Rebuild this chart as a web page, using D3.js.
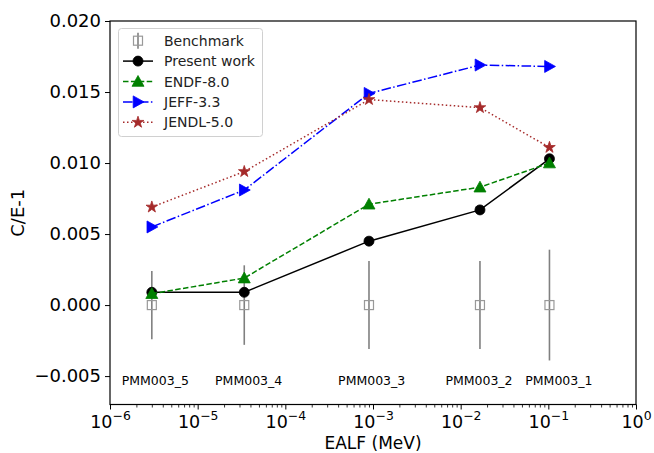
<!DOCTYPE html>
<html>
<head>
<meta charset="utf-8">
<script src="https://cdn.jsdelivr.net/npm/d3@7"></script>
<style>
  html, body { margin: 0; padding: 0; background: #fff; }
  svg { display: block; font-family: "DejaVu Sans", sans-serif; }
</style>
</head>
<body>
<svg id="chart" width="654" height="453"></svg>
<script>
// ---- data ----
const cases = ["PMM003_5", "PMM003_4", "PMM003_3", "PMM003_2", "PMM003_1"];
const ealf = [3.0e-6, 3.4e-5, 9.0e-4, 1.66e-2, 1.03e-1];
const benchmark = [0, 0, 0, 0, 0];
const benchmarkErr = [0.0024, 0.0028, 0.0031, 0.0031, 0.0039];
const presentWork = [0.0009, 0.0009, 0.0045, 0.0067, 0.0103];
const endf80 = [0.0008, 0.0019, 0.0071, 0.0083, 0.0100];
const jeff33 = [0.0055, 0.0081, 0.0149, 0.0169, 0.0168];
const jendl50 = [0.0069, 0.0094, 0.01447, 0.0139, 0.0111];
const labelX = [1.36e-6, 1.58e-5, 4.0e-4, 6.7e-3, 5.46e-2];
const labelY = -0.00565;
const yTicks = [-0.005, 0.000, 0.005, 0.010, 0.015, 0.020];
const xTickExps = [-6, -5, -4, -3, -2, -1, 0];

// ---- layout ----
const svg = d3.select("#chart");
const L = 110, R = 636, T = 21, B = 404.5;
const x = d3.scaleLog().domain([1e-6, 1]).range([L, R]);
const y = d3.scaleLinear().domain([-0.007, 0.020]).range([B, T]);

const series = [
  { name: "Present work", vals: presentWork, color: "#000000", dash: null, marker: "circle" },
  { name: "ENDF-8.0", vals: endf80, color: "#008000", dash: "5.5,2.4", marker: "triUp" },
  { name: "JEFF-3.3", vals: jeff33, color: "#0000ff", dash: "9.6,2.4,1.5,2.4", marker: "triRight" },
  { name: "JENDL-5.0", vals: jendl50, color: "#a52a2a", dash: "1.5,2.5", marker: "star" }
];

function markerPath(type) {
  if (type === "circle") return d3.symbol().type(d3.symbolCircle).size(Math.PI * 5 * 5)();
  if (type === "triUp") { const s = 6; return `M0,${-s}L${s},${s * 0.8}L${-s},${s * 0.8}Z`; }
  if (type === "triRight") { const s = 6; return `M${s},0L${-s * 0.8},${s}L${-s * 0.8},${-s}Z`; }
  if (type === "star") return d3.symbol().type(d3.symbolStar).size(42)();
  return "";
}

// ---- benchmark ----
const gBench = svg.append("g");
cases.forEach((c, i) => {
  gBench.append("line")
    .attr("x1", x(ealf[i])).attr("x2", x(ealf[i]))
    .attr("y1", y(benchmark[i] - benchmarkErr[i])).attr("y2", y(benchmark[i] + benchmarkErr[i]))
    .attr("stroke", "#808080").attr("stroke-width", 1.6);
  gBench.append("rect")
    .attr("x", x(ealf[i]) - 4.5).attr("y", y(benchmark[i]) - 4.5)
    .attr("width", 9).attr("height", 9)
    .attr("fill", "none").attr("stroke", "#999").attr("stroke-width", 1.2);
});

// ---- series ----
const line = d3.line().x((d, i) => x(ealf[i])).y(d => y(d));
series.forEach(s => {
  svg.append("path").datum(s.vals)
    .attr("d", line)
    .attr("fill", "none").attr("stroke", s.color).attr("stroke-width", 1.5)
    .attr("stroke-dasharray", s.dash);
  svg.append("g").selectAll("path").data(s.vals).join("path")
    .attr("d", markerPath(s.marker))
    .attr("transform", (d, i) => `translate(${x(ealf[i])},${y(d)})`)
    .attr("fill", s.color).attr("stroke", s.color).attr("stroke-width", 0.8);
});

// ---- case labels ----
svg.append("g").selectAll("text").data(cases).join("text")
  .attr("x", (d, i) => x(labelX[i])).attr("y", y(labelY))
  .attr("font-size", 12.5).attr("fill", "#000")
  .text(d => d);

// ---- frame ----
svg.append("rect").attr("x", L).attr("y", T).attr("width", R - L).attr("height", B - T)
  .attr("fill", "none").attr("stroke", "#000").attr("stroke-width", 1.2);

// ---- y axis ----
const yAxis = d3.axisLeft(y).tickValues(yTicks).tickSize(5).tickPadding(4)
  .tickFormat(d => d3.format(".3f")(d).replace("-", "\u2212"));
const gy = svg.append("g").attr("transform", `translate(${L},0)`).call(yAxis);
gy.select(".domain").remove();
gy.selectAll("text").attr("font-size", 18).attr("font-family", "DejaVu Sans").attr("fill", "#000");
gy.selectAll("line").attr("stroke-width", 1);

// ---- x axis ----
const majors = xTickExps.map(e => Math.pow(10, e));
const minors = [];
xTickExps.slice(0, -1).forEach(e => { for (let k = 2; k <= 9; k++) minors.push(k * Math.pow(10, e)); });
const xMinor = d3.axisBottom(x).tickValues(minors).tickSize(3).tickFormat("");
const gxm = svg.append("g").attr("transform", `translate(0,${B})`).call(xMinor);
gxm.select(".domain").remove();
gxm.selectAll("line").attr("stroke-width", 0.8);
const xAxis = d3.axisBottom(x).tickValues(majors).tickSize(5).tickFormat("");
const gx = svg.append("g").attr("transform", `translate(0,${B})`).call(xAxis);
gx.select(".domain").remove();
gx.selectAll("line").attr("stroke-width", 1);
gx.selectAll(".tick").each(function(d, i) {
  const t = d3.select(this).append("text")
    .attr("y", 23.5).attr("fill", "#000").attr("text-anchor", "middle")
    .attr("font-size", 17.5).attr("font-family", "DejaVu Sans");
  t.append("tspan").text("10");
  t.append("tspan").attr("dy", -8).attr("font-size", 12.4)
    .text(xTickExps[i] === 0 ? "0" : "\u2212" + Math.abs(xTickExps[i]));
});

// ---- axis labels ----
svg.append("text").attr("x", (L + R) / 2).attr("y", 449).attr("text-anchor", "middle")
  .attr("font-size", 17).attr("fill", "#000").text("EALF (MeV)");
svg.append("text").attr("transform", `translate(24,${(T + B) / 2}) rotate(-90)`)
  .attr("text-anchor", "middle").attr("font-size", 18).attr("fill", "#000").text("C/E-1");

// ---- legend ----
const lg = svg.append("g");
lg.append("rect").attr("x", 118.5).attr("y", 28.5).attr("width", 144).attr("height", 108)
  .attr("rx", 3).attr("fill", "#fff").attr("fill-opacity", 0.8)
  .attr("stroke", "#d0d0d0").attr("stroke-width", 1);
const legendItems = [{ name: "Benchmark", bench: true }].concat(series);
legendItems.forEach((s, i) => {
  const cy = 40.7 + i * 20.4;
  const cx = 138;
  if (s.bench) {
    lg.append("line").attr("x1", cx).attr("x2", cx).attr("y1", cy - 8).attr("y2", cy + 8)
      .attr("stroke", "#808080").attr("stroke-width", 1.6);
    lg.append("rect").attr("x", cx - 4.5).attr("y", cy - 4.5).attr("width", 9).attr("height", 9)
      .attr("fill", "none").attr("stroke", "#999").attr("stroke-width", 1.2);
  } else {
    lg.append("line").attr("x1", 123).attr("x2", 153).attr("y1", cy).attr("y2", cy)
      .attr("stroke", s.color).attr("stroke-width", 1.5).attr("stroke-dasharray", s.dash);
    lg.append("path").attr("d", markerPath(s.marker)).attr("transform", `translate(${cx},${cy})`)
      .attr("fill", s.color).attr("stroke", s.color).attr("stroke-width", 0.8);
  }
  lg.append("text").attr("x", 164).attr("y", cy).attr("dy", "0.36em")
    .attr("font-size", 14).attr("fill", "#222").text(s.name);
});
</script>
</body>
</html>
